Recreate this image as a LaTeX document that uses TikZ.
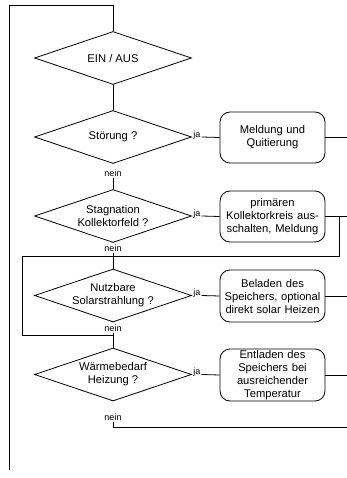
\documentclass[tikz,border=0pt]{standalone}
\usepackage{fontspec}
\setmainfont{Liberation Sans}
\usetikzlibrary{shapes.geometric}
\begin{document}
\begin{tikzpicture}[x=1pt,y=-1pt,
  line/.style={draw=black,line width=0.8pt},
  dia/.style={diamond,draw=black,line width=0.8pt,inner sep=0pt,minimum width=157pt,minimum height=53pt},
  dtext/.style={align=center,font=\fontsize{11.2}{13}\selectfont,inner sep=0pt},
  box/.style={rectangle,rounded corners=10pt,draw=black,line width=0.8pt,minimum width=105pt,minimum height=51pt,align=center,inner sep=0pt,text width=104pt,font=\fontsize{11.2}{13}\selectfont},
  lab/.style={font=\fontsize{9}{10}\selectfont,inner sep=1.2pt}]
\useasboundingbox (0,0) rectangle (347,478);
\coordinate (R) at (347,0);
% diamonds
\node[dia] (d1) at (113,58) {};
\node[dtext] at (d1) {EIN / AUS};
\node[dia] (d2) at (113,137) {};
\node[dtext] at (d2) {Störung ?};
\node[dia] (d3) at (113,216) {};
\node[dtext] at (d3) {Stagnation\\Kollektorfeld ?};
\node[dia] (d4) at (113,295.5) {};
\node[dtext] at (d4) {Nutzbare\\Solarstrahlung ?};
\node[dia] (d5) at (113,374.5) {};
\node[dtext] at (d5) {Wärmebedarf\\Heizung ?};
% boxes
\node[box] (b2) at (272.5,137.5) {Meldung und\\Quitierung};
\node[box] (b3) at (272.5,216.5) {primären\\Kollektorkreis aus-\\schalten, Meldung};
\node[box,minimum height=52pt] (b4) at (272.5,296) {Beladen des\\Speichers, optional\\direkt solar Heizen};
\node[box,minimum height=52pt] (b5) at (272.5,375) {Entladen des\\Speichers bei\\ausreichender\\Temperatur};
% ja labels
\foreach \i in {2,3,4,5}{
  \node[lab,anchor=west,yshift=2pt] (j\i) at (d\i.east) {ja};
  \draw[line] (j\i.east |- d\i.east) -- (b\i.west);
  \draw[line] (b\i.east) -- (b\i.east -| R);
}
% nein labels
\node[lab] (n2) at (113,173) {nein};
\node[lab] (n3) at (113,248) {nein};
\node[lab] (n4) at (113,328) {nein};
\node[lab] (n5) at (113,417) {nein};
% main loop on the left
\coordinate (TL) at (9,5);
\coordinate (BL) at (9,470);
\draw[line] (BL) -- (TL) -| (d1.north);
\draw[line] (d1.south) -- (d2.north);
\draw[line] (n2.south) -- (d3.north);
\draw[line] (n3.south) -- (d4.north);
\draw[line] (n4.south) -- (d5.north);
% loop from Stagnation box
\coordinate (K1) at (339,256);
\coordinate (K2) at (22,256);
\coordinate (K3) at (22,335);
\draw[line] (b3.east -| K1) -- (K1) -- (K2) -- (K3) -- (K3 -| d5.north);
% bottom exit
\coordinate (E) at (347,427);
\draw[line] (n5.south) |- (E);
\end{tikzpicture}
\end{document}
